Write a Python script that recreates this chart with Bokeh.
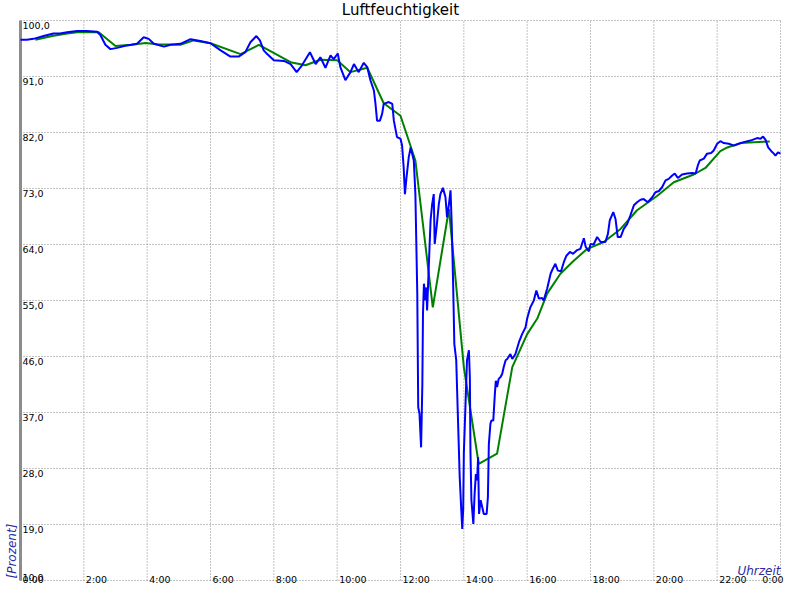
from bokeh.plotting import figure
from bokeh.models import Range1d
from bokeh.core.properties import value
from bokeh.embed import file_html
from bokeh.resources import INLINE
import math

# ---------------- data ----------------
title_text = "Luftfeuchtigkeit"
y_axis_label = "[Prozent]"
x_axis_label = "Uhrzeit"

y_ticks = [10, 19, 28, 37, 46, 55, 64, 73, 82, 91, 100]
y_tick_labels = ["10,0", "19,0", "28,0", "37,0", "46,0", "55,0", "64,0", "73,0", "82,0", "91,0", "100,0"]
x_ticks = [0, 2, 4, 6, 8, 10, 12, 14, 16, 18, 20, 22, 24]
x_tick_labels = ["0:00", "2:00", "4:00", "6:00", "8:00", "10:00", "12:00", "14:00",
                 "16:00", "18:00", "20:00", "22:00", "0:00"]

# measured humidity (blue), time in hours
blue_hours = [
    0.00, 0.20, 0.41, 0.73, 1.04, 1.25, 1.47, 1.79, 2.10, 2.42, 2.53, 2.68, 2.84, 3.05,
    3.37, 3.68, 3.89, 4.05, 4.21, 4.53, 4.74, 5.05, 5.37, 5.68, 6.00, 6.32, 6.63, 6.89,
    7.10, 7.26, 7.45, 7.56, 7.68, 7.79, 8.00, 8.32, 8.53, 8.72, 8.89, 9.14, 9.32, 9.47,
    9.63, 9.79, 9.89, 10.02, 10.10, 10.26, 10.42, 10.53, 10.68, 10.84, 10.95, 11.05,
    11.16, 11.21, 11.26, 11.35, 11.42, 11.47, 11.63, 11.74, 11.79, 11.89, 12.00, 12.05,
    12.10, 12.14, 12.19, 12.26, 12.32, 12.42, 12.47, 12.53, 12.56, 12.60, 12.65, 12.69,
    12.71, 12.74, 12.79, 12.82, 12.84, 12.90, 12.95, 13.00, 13.05, 13.08, 13.14, 13.21,
    13.26, 13.34, 13.42, 13.47, 13.53, 13.58, 13.62, 13.66, 13.70, 13.76, 13.81, 13.87,
    13.92, 13.95, 13.98, 14.00, 14.05, 14.10, 14.16, 14.19, 14.21, 14.24, 14.30, 14.34,
    14.38, 14.42, 14.45, 14.48, 14.53, 14.58, 14.63, 14.72, 14.76, 14.79, 14.84, 14.87,
    14.93, 14.98, 15.01, 15.05, 15.10, 15.16, 15.21, 15.26, 15.32, 15.37, 15.47, 15.53,
    15.63, 15.74, 15.84, 15.95, 16.00, 16.10, 16.21, 16.29, 16.37, 16.47, 16.52, 16.63,
    16.74, 16.79, 16.89, 16.97, 17.07, 17.16, 17.24, 17.35, 17.45, 17.58, 17.68, 17.79,
    17.85, 17.95, 18.00, 18.10, 18.21, 18.32, 18.47, 18.55, 18.61, 18.72, 18.79, 18.86,
    18.95, 19.05, 19.16, 19.26, 19.37, 19.47, 19.58, 19.68, 19.81, 19.95, 20.05, 20.16,
    20.26, 20.37, 20.47, 20.58, 20.66, 20.76, 20.89, 21.05, 21.21, 21.32, 21.39, 21.45,
    21.58, 21.68, 21.81, 21.89, 22.00, 22.10, 22.21, 22.37, 22.53, 22.68, 22.84, 23.05,
    23.26, 23.37, 23.45, 23.53, 23.61, 23.71, 23.79, 23.84, 23.92, 24.00,
]
blue_values = [
    96.9, 96.9, 97.05, 97.5, 97.9, 97.9, 98.1, 98.3, 98.3, 98.2, 97.6, 96.1, 95.4, 95.6,
    96.0, 96.25, 97.3, 97.05, 96.25, 95.8, 96.1, 96.25, 97.0, 96.7, 96.35, 95.2, 94.2, 94.2,
    94.9, 96.5, 97.5, 96.8, 95.2, 94.6, 93.6, 93.5, 93.0, 91.7, 92.8, 94.9, 93.0, 94.1,
    92.4, 94.4, 93.8, 94.7, 92.5, 90.4, 91.7, 93.0, 91.7, 93.2, 92.5, 90.4,
    88.75, 86.6, 83.9, 83.9, 85.0, 86.6, 86.9, 86.6, 83.9, 81.25, 81.0, 79.9,
    76.4, 72.1, 74.8, 78.0, 79.6, 77.5, 72.1, 56.1, 37.85, 36.8, 31.4, 41.6,
    52.9, 57.7, 55.0, 57.1, 53.4, 61.4, 67.9, 70.5, 72.1, 64.1, 66.8, 70.5,
    72.1, 73.1, 71.6, 68.4, 70.5, 72.7, 66.8, 58.2, 48.0, 45.4, 36.8, 26.6,
    21.25, 18.3, 21.5, 30.4, 37.85, 45.4, 47.0, 42.7, 30.4, 22.9, 19.1, 23.9,
    27.1, 26.1, 29.8, 20.7, 22.9, 21.8, 20.7, 20.7, 23.4, 31.9, 35.2, 35.7,
    35.7, 40.0, 42.1, 41.1, 42.4, 42.7, 43.2, 44.3, 45.4, 45.6, 46.4, 45.6,
    46.4, 48.3, 49.6, 50.7, 52.1, 53.9, 55.0, 56.6, 55.3, 55.4, 55.0, 56.9,
    59.3, 59.9, 60.9, 59.8, 59.7, 61.2, 62.2, 62.8, 62.5, 63.1, 63.3, 65.0,
    63.6, 62.9, 64.1, 64.0, 65.2, 64.4, 64.4, 65.7, 67.9, 69.2, 68.1, 65.2,
    65.2, 66.5, 67.3, 68.7, 70.3, 70.8, 71.2, 71.3, 70.8, 71.6, 72.4, 72.6,
    73.2, 74.3, 74.55, 75.1, 75.4, 74.7, 75.25, 75.4, 75.5, 75.4, 76.7, 77.5,
    77.8, 78.6, 78.7, 79.1, 80.2, 80.6, 80.3, 80.2, 79.9, 80.2, 80.45, 80.7,
    81.1, 81.0, 81.35, 80.8, 79.6, 79.0, 78.6, 78.3, 78.8, 78.6,
]

# smoothed humidity (green)
green_hours = [
    0.47, 1.00, 1.47, 1.79, 2.47, 3.00, 3.50, 3.95, 4.32, 5.05, 5.47, 6.00, 6.95, 7.53,
    8.53, 9.00, 9.47, 10.00, 10.42, 10.95, 11.47, 12.00, 12.47, 13.02, 13.53, 14.00,
    14.47, 15.05, 15.53, 16.00, 16.32, 16.63, 17.05, 17.47, 17.90, 18.42, 18.95, 19.47,
    20.10, 20.63, 21.26, 21.63, 22.10, 22.32, 22.74, 23.16, 23.66,
]
green_values = [
    96.9, 97.5, 97.9, 98.1, 98.1, 95.9, 96.1, 96.4, 96.2, 96.1, 96.8, 96.35, 94.6, 96.1,
    93.3, 92.8, 93.7, 93.6, 91.7, 92.4, 86.7, 84.7, 77.5, 53.9, 69.7, 44.3,
    28.75, 30.4, 44.3, 49.6, 52.1, 56.1, 59.3, 61.4, 63.3, 64.4, 66.5, 69.5,
    71.8, 74.0, 75.25, 76.3, 79.0, 79.6, 80.3, 80.45, 80.55,
]

# ---------------- layout ----------------
W, H = 784, 584
LEFT, RIGHT, TOP, BOTTOM = 20, 780, 20, 580   # plot area inside the canvas
X0, X1 = x_ticks[0], x_ticks[-1]
Y0, Y1 = y_ticks[0], y_ticks[-1]
sx = (RIGHT - LEFT) / (X1 - X0)
sy = (BOTTOM - TOP) / (Y1 - Y0)
x_range = Range1d(X0 - LEFT / sx, X1 + (W - RIGHT) / sx)
y_range = Range1d(Y0 - (H - BOTTOM) / sy, Y1 + TOP / sy)

p = figure(width=W, height=H, x_range=x_range, y_range=y_range,
           output_backend="svg", toolbar_location=None,
           x_axis_location=None, y_axis_location=None, min_border=0)
p.outline_line_color = None
p.xgrid.visible = False
p.ygrid.visible = False
p.background_fill_color = "white"
p.border_fill_color = "white"

FONT = value("DejaVu Sans")
GRID = "#888888"
TICK_FS = "9.5px"

# grid lines
p.segment(x0=x_ticks, x1=x_ticks, y0=[Y0] * len(x_ticks), y1=[Y1] * len(x_ticks),
          line_color=GRID, line_width=1, line_dash="1 2")
p.segment(x0=[X0] * len(y_ticks), x1=[X1] * len(y_ticks), y0=y_ticks, y1=y_ticks,
          line_color=GRID, line_width=1, line_dash="1 2")

# left axis line
p.segment(x0=[X0], x1=[X0], y0=[Y0], y1=[Y1], line_color="#8c8c8c", line_width=3)

# data
p.line(green_hours, green_values, line_color="#008000", line_width=2)
p.line(blue_hours, blue_values, line_color="#0000ff", line_width=2)

# y tick labels (inside the plot, top-aligned to grid line); lowest one shares the time row
p.text(x=[X0] * (len(y_ticks) - 1), y=y_ticks[1:], text=y_tick_labels[1:],
       text_font=FONT, text_font_size=TICK_FS, text_color="black",
       text_align="left", text_baseline="top", x_offset=2, y_offset=1)
p.text(x=[X0], y=[y_ticks[0]], text=[y_tick_labels[0]],
       text_font=FONT, text_font_size=TICK_FS, text_color="black",
       text_align="left", text_baseline="top", x_offset=2, y_offset=-7)

# x tick labels (bottom row, left-aligned to grid line)
p.text(x=x_ticks[:-1], y=[Y0] * (len(x_ticks) - 1), text=x_tick_labels[:-1],
       text_font=FONT, text_font_size=TICK_FS, text_color="black",
       text_align="left", text_baseline="top", x_offset=2, y_offset=-7)
p.text(x=[x_range.end], y=[Y0], text=[x_tick_labels[-1]],
       text_font=FONT, text_font_size=TICK_FS, text_color="black",
       text_align="right", text_baseline="top", x_offset=-1, y_offset=-7)

# title
p.text(x=[(X0 + X1) / 2], y=[y_range.end], text=[title_text],
       text_font=FONT, text_font_size="15px", text_color="black",
       text_align="center", text_baseline="top", y_offset=0)

# axis titles
AX_COLOR = "#2b2ba3"
p.text(x=[X0], y=[Y0], text=[y_axis_label], angle=math.pi / 2,
       text_font=FONT, text_font_size="12px", text_font_style="italic",
       text_color=AX_COLOR, text_align="left", text_baseline="alphabetic",
       x_offset=-9, y_offset=-2)
p.text(x=[X1], y=[Y0], text=[x_axis_label],
       text_font=FONT, text_font_size="12px", text_font_style="italic",
       text_color=AX_COLOR, text_align="right", text_baseline="alphabetic",
       x_offset=0, y_offset=-10)

open("out.html", "w").write(file_html(p, INLINE))
